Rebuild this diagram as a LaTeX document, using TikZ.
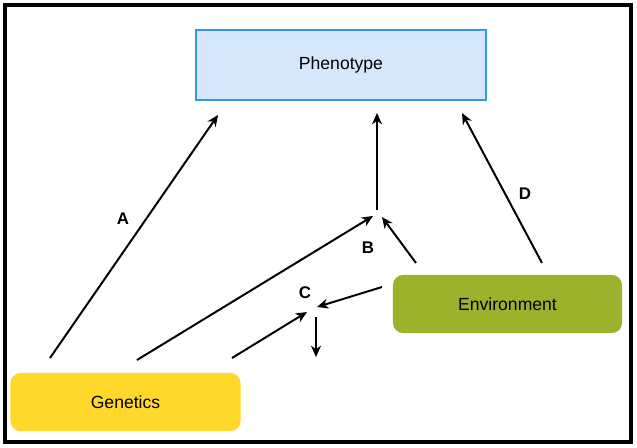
\documentclass[tikz,border=0pt]{standalone}
\usepackage{fontspec}
\setmainfont{Liberation Sans}
\usepackage{tikz}
\usetikzlibrary{shapes,arrows.meta,positioning,calc}

\definecolor{phenofill}{HTML}{D6E6FB}
\definecolor{phenoline}{HTML}{3396E8}
\definecolor{genefill}{HTML}{FFD82B}
\definecolor{envfill}{HTML}{9AB22C}

\begin{document}
\begin{tikzpicture}[
    x=0.025cm, y=-0.025cm,
    every node/.style={font=\fontsize{12.5}{15}\selectfont},
    block/.style={rectangle, minimum width=5.75cm, minimum height=1.45cm, text centered, rounded corners=0.25cm},
    lbl/.style={font=\fontsize{12}{14}\selectfont\bfseries},
    arrow/.style={line width=1.4pt,->,>={Stealth[length=8pt,width=7pt,inset=2.5pt]}}
]
\useasboundingbox (0,0) rectangle (637,447);
\draw[line width=2.2pt] (5,5) rectangle (631,442);

\node[rectangle, draw=phenoline, line width=1.6pt, fill=phenofill, minimum width=7.25cm, minimum height=1.75cm] (pheno) at (341,65) {Phenotype};
\node[block, fill=genefill] (gen) at (125.5,402) {Genetics};
\node[block, fill=envfill, minimum width=5.725cm] (env) at (507.5,304) {Environment};

% meeting points
\coordinate (bpt) at (377,213);
\coordinate (cpt) at (312,310);

% arrow ends
\coordinate (gA) at (50,358);
\coordinate (gB) at (137,360);
\coordinate (gC) at (232,358);
\coordinate (eB) at (416,263);
\coordinate (eC) at (382,287);
\coordinate (eD) at (542,263);
\coordinate (pA) at (218,115);
\coordinate (pB) at (377,113);
\coordinate (pD) at (462,113);

\draw[arrow] (gA) -- (pA);
\node[lbl] (labA) at (123,219) {A};
\draw[arrow] (gB) -- ($(bpt)+(-4,3)$);
\draw[arrow] ($(bpt)+(0,-3)$) -- (pB);
\draw[arrow] (eB) -- ($(bpt)+(5,4)$);
\node[lbl] (labB) at (368,248) {B};
\draw[arrow] (eD) -- (pD);
\node[lbl] (labD) at (525,194) {D};
\draw[arrow] (gC) -- ($(cpt)+(-5,2)$);
\draw[arrow] (eC) -- ($(cpt)+(5,-3)$);
\draw[arrow] ($(cpt)+(4,7)$) -- ($(cpt)+(4,47)$);
\node[lbl] (labC) at (305,293) {C};
\end{tikzpicture}
\end{document}
